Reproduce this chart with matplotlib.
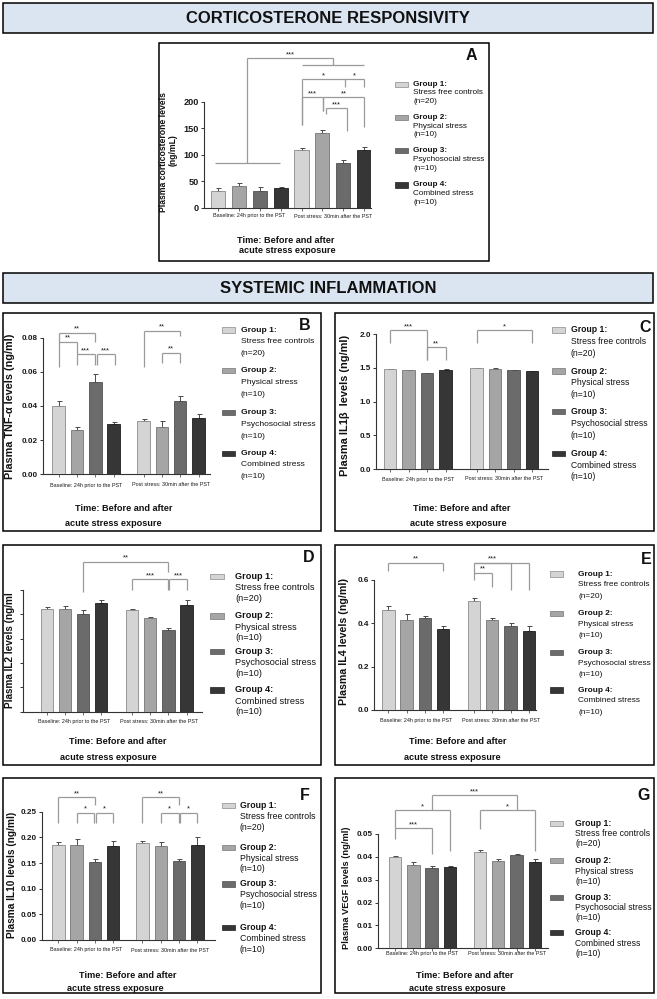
import matplotlib
matplotlib.use('Agg')
import matplotlib.pyplot as plt
from matplotlib.patches import Rectangle
import numpy as np

W, H = 657, 999
plt.rcParams['font.family'] = ['Liberation Sans', 'DejaVu Sans']

# ---- data (rows: baseline g1..g4, post stress g1..g4) ----
groups = ['Group 1:', 'Group 2:', 'Group 3:', 'Group 4:']
group_desc = ['Stress free controls', 'Physical stress', 'Psychosocial stress', 'Combined stress']
group_n = ['(n=20)', '(n=10)', '(n=10)', '(n=10)']
timepoints = ['Baseline: 24h prior to the PST', 'Post stress: 30min after the PST']

cort_mean = [31, 41.5, 31.5, 36.5, 108.5, 141, 84, 109]
cort_sem = [6.3, 5.5, 7.5, 2.5, 4.2, 5.5, 5.7, 5.7]
cort_ticks = [0, 50, 100, 150, 200]
cort_ticklabels = ['0', '50', '100', '150', '200']

tnf_mean = [0.0400, 0.0259, 0.0542, 0.0294, 0.0312, 0.0277, 0.0431, 0.0328]
tnf_sem = [0.0029, 0.0020, 0.0045, 0.0014, 0.0010, 0.0035, 0.0027, 0.0023]
tnf_ticks = [0, 0.02, 0.04, 0.06, 0.08]
tnf_ticklabels = ['0.00', '0.02', '0.04', '0.06', '0.08']

il1b_mean = [1.485, 1.465, 1.42, 1.475, 1.495, 1.49, 1.465, 1.45]
il1b_sem = [0.006, 0.006, 0.006, 0.006, 0.006, 0.006, 0.006, 0.006]
il1b_ticks = [0, 0.5, 1.0, 1.5, 2.0]
il1b_ticklabels = ['0.0', '0.5', '1.0', '1.5', '2.0']

il2_mean = [4.21, 4.23, 4.02, 4.46, 4.19, 3.84, 3.36, 4.39]
il2_sem = [0.09, 0.12, 0.16, 0.14, 0.02, 0.07, 0.07, 0.21]
il2_ticks = [0, 1, 2, 3, 4, 5]
il2_ticklabels = ['', '', '', '', '', '']

il4_mean = [0.4615, 0.415, 0.423, 0.374, 0.503, 0.415, 0.388, 0.365]
il4_sem = [0.018, 0.028, 0.012, 0.014, 0.012, 0.008, 0.012, 0.024]
il4_ticks = [0, 0.2, 0.4, 0.6]
il4_ticklabels = ['0.0', '0.2', '0.4', '0.6']

il10_mean = [0.185, 0.186, 0.152, 0.183, 0.189, 0.184, 0.153, 0.185]
il10_sem = [0.005, 0.011, 0.005, 0.010, 0.004, 0.007, 0.005, 0.015]
il10_ticks = [0, 0.05, 0.10, 0.15, 0.20, 0.25]
il10_ticklabels = ['0.00', '0.05', '0.10', '0.15', '0.20', '0.25']

vegf_mean = [0.0398, 0.0366, 0.0351, 0.0355, 0.0421, 0.0382, 0.0409, 0.0379]
vegf_sem = [0.0007, 0.0013, 0.0009, 0.0004, 0.0010, 0.0009, 0.0004, 0.0011]
vegf_ticks = [0, 0.01, 0.02, 0.03, 0.04, 0.05]
vegf_ticklabels = ['0.00', '0.01', '0.02', '0.03', '0.04', '0.05']

# significance brackets: (from bar, to bar, height, [(leg bar, leg end)], label)
cort_brackets = [
    (-0.15, 2.95, 85, [], ''),
    (4, 7, 270, [], ''),
    (1.4, 5.5, 282, [(1.4, 85), (5.5, 270)], '***'),
    (4, 6.1, 242, [(4, 156), (6.1, 228)], '*'),
    (6.1, 7, 242, [(7, 228)], '*'),
    (4, 5.03, 208, [(4, 156), (5.03, 183)], '***'),
    (5.03, 7, 208, [(5.03, 183), (7, 151.6)], '**'),
    (5.2, 6.18, 187.4, [(5.2, 176.7), (6.18, 145)], '***'),
]
tnf_brackets = [
    (0, 2, 0.0829, [(0, 0.063), (2, 0.0776)], '**'),
    (0, 1, 0.0776, [(1, 0.0704)], '**'),
    (1, 1.97, 0.0704, [(1, 0.064), (1.97, 0.064)], '***'),
    (2.07, 3.05, 0.0704, [(2.07, 0.064), (3.05, 0.064)], '***'),
    (4, 6, 0.084, [(4, 0.0626), (6, 0.081)], '**'),
    (5, 6, 0.0712, [(5, 0.0653), (6, 0.0653)], '**'),
]
il1b_brackets = [
    (0, 2, 2.065, [(0, 1.877), (2, 1.62)], '***'),
    (2, 3, 1.808, [(2, 1.62), (3, 1.62)], '**'),
    (4, 7, 2.065, [(4, 1.877), (7, 1.877)], '*'),
]
il2_brackets = [
    (2, 6, 6.17, [(2, 4.9), (6, 5.76)], '**'),
    (4, 6, 5.45, [(4, 4.98), (6, 5.0)], '***'),
    (6.05, 7, 5.45, [(6.05, 5.0), (7, 5.0)], '***'),
]
il4_brackets = [
    (0, 3, 0.68, [(0, 0.643), (3, 0.643)], '**'),
    (4, 7, 0.68, [(4, 0.60), (6, 0.554), (7, 0.554)], ''),
    (4, 6, 0.68, [], '***'),
    (4, 5, 0.634, [(5, 0.569)], '**'),
]
il10_brackets = [
    (0, 2, 0.278, [(0, 0.2285), (2, 0.263)], '**'),
    (1, 1.97, 0.248, [(1, 0.2285), (1.97, 0.2285)], '*'),
    (2.07, 3, 0.248, [(2.07, 0.2285), (3, 0.2285)], '*'),
    (4, 6, 0.278, [(4, 0.2285), (6, 0.263)], '**'),
    (5, 5.97, 0.248, [(5, 0.2285), (5.97, 0.2285)], '*'),
    (6.07, 7, 0.248, [(6.07, 0.2285), (7, 0.2285)], '*'),
]
vegf_brackets = [
    (0, 3, 0.0603, [(0, 0.0525), (3, 0.0426)], '*'),
    (0, 2, 0.0525, [(0, 0.0478), (2, 0.0412)], '***'),
    (4, 7, 0.0603, [(4, 0.0522), (7, 0.0426)], '*'),
    (2, 6, 0.0669, [(2, 0.0603), (6, 0.0603)], '***'),
]

bar_colors = ['#d4d4d4', '#a5a5a5', '#6b6b6b', '#363636']
bar_edges = ['#8a8a8a', '#767676', '#505050', '#1e1e1e']

fig = plt.figure(figsize=(W / 100, H / 100), dpi=100)


def fx(x):
    return x / W


def fy(y):
    return 1 - y / H


def box(x0, y0, x1, y1, fill='none', lw=1.1):
    fig.patches.append(Rectangle((fx(x0), fy(y1)), (x1 - x0) / W, (y1 - y0) / H,
                                 transform=fig.transFigure, facecolor=fill,
                                 edgecolor='black', linewidth=lw, zorder=-2))


def header(y0, y1, title):
    box(2.5, y0, 652.5, y1, fill='#dbe5f1')
    fig.text(fx(328), fy((y0 + y1) / 2 + 0.5), title, ha='center', va='center',
             fontsize=12, fontweight='bold', color='#111111')


def draw_panel(geo, mean, sem, ticks, ticklabels, brackets, ylabel, letter):
    left, right, y0, tv, tpx, ytop = geo['axis']
    c0, step, gap = geo['bars']
    scale = (y0 - tpx) / tv
    top_px = y0 - ytop * scale
    ax = fig.add_axes([fx(left), fy(y0), (right - left) / W, (y0 - top_px) / H])
    ax.patch.set_alpha(0)
    pos = np.array([0, 1, 2, 3, 3 + gap, 4 + gap, 5 + gap, 6 + gap])

    def xp(i):
        return i if i < 3.5 else i + gap - 1

    def px_x(i):
        return c0 + xp(i) * step

    ax.set_xlim((left - c0) / step, (right - c0) / step)
    ax.set_ylim(0, ytop)
    ax.bar(pos, mean, width=0.68, color=bar_colors * 2, edgecolor=bar_edges * 2,
           linewidth=0.6, zorder=3)
    ax.errorbar(pos, mean, yerr=[np.zeros(8), sem], fmt='none', ecolor='#4a4a4a',
                elinewidth=0.7, capsize=1.8, capthick=0.7, zorder=2)

    for s in ['top', 'right']:
        ax.spines[s].set_visible(False)
    for s in ['left', 'bottom']:
        ax.spines[s].set_color('#333333')
        ax.spines[s].set_linewidth(0.8)
    ax.spines['left'].set_bounds(0, ticks[-1])
    ax.set_yticks(ticks)
    ax.set_yticklabels(ticklabels, fontsize=geo.get('tickfs', 5.9), fontweight='bold',
                       color='#1a1a1a')
    ax.set_xticks(pos)
    ax.set_xticklabels([])
    ax.tick_params(axis='y', length=2.5, width=0.7, color='#333333', pad=1.2)
    ax.tick_params(axis='x', length=2.2, width=0.6, color='#555555')

    for x1, x2, yb, legs, lab in brackets:
        ax.plot([xp(x1), xp(x2)], [yb, yb], color='#9a9a9a', lw=0.9,
                clip_on=False, zorder=1, solid_capstyle='butt')
        for lx, ly in legs:
            ax.plot([xp(lx), xp(lx)], [yb, ly], color='#9a9a9a', lw=0.9,
                    clip_on=False, zorder=1, solid_capstyle='butt')
        if lab:
            ax.text((xp(x1) + xp(x2)) / 2, yb, lab, ha='center', va='bottom',
                    fontsize=5.5, color='#1a1a1a', clip_on=False)

    # category labels under each time point
    cy = geo['cat_y']
    for k, tp in enumerate(timepoints):
        cx = (px_x(4 * k) + px_x(4 * k + 3)) / 2
        fig.text(fx(cx), fy(cy), tp, ha='center', va='center', fontsize=3.9,
                 color='#1a1a1a')

    # x axis title
    (l1x, l1y), (l2x, l2y) = geo['xlab']
    fig.text(fx(l1x), fy(l1y), 'Time: Before and after', ha='center', va='center',
             fontsize=6.6, fontweight='bold', color='#111111')
    fig.text(fx(l2x), fy(l2y), 'acute stress exposure', ha='center', va='center',
             fontsize=6.6, fontweight='bold', color='#111111')

    # y axis title
    for (yx, yy), txt in zip(geo['ylab'], ylabel):
        fig.text(fx(yx), fy(yy), txt, ha='center', va='center', rotation=90,
                 fontsize=geo.get('ylfs', 6.5), fontweight='bold', color='#111111')

    # panel letter
    lx, ly = geo['letter']
    fig.text(fx(lx), fy(ly), letter, ha='center', va='center', fontsize=11.5,
             fontweight='bold', color='#111111')

    # legend
    p0, p1, tx, gys, dl, lfs = geo['legend']
    for k in range(4):
        gy = gys[k]
        fig.patches.append(Rectangle((fx(p0), fy(gy + 2.7)), (p1 - p0) / W, 5.4 / H,
                                     transform=fig.transFigure, facecolor=bar_colors[k],
                                     edgecolor=bar_edges[k], linewidth=0.5, zorder=2))
        fig.text(fx(tx), fy(gy), groups[k], ha='left', va='center', fontsize=lfs,
                 fontweight='bold', color='#111111')
        fig.text(fx(tx), fy(gy + dl), group_desc[k], ha='left', va='center',
                 fontsize=lfs, color='#111111')
        fig.text(fx(tx), fy(gy + 2 * dl), group_n[k], ha='left', va='center',
                 fontsize=lfs, color='#111111')
    return ax


# ---- frames ----
header(3, 33, 'CORTICOSTERONE RESPONSIVITY')
header(273, 303, 'SYSTEMIC INFLAMMATION')
box(159, 43, 489, 261)
box(2.5, 313, 321, 531)
box(335, 313, 654, 531)
box(2.5, 545, 321, 765)
box(335, 545, 654, 765)
box(2.5, 778, 321, 993)
box(335, 778, 654, 993)

geo_a = dict(axis=(204, 371.5, 207.7, 200, 101.7, 300), bars=(218.3, 20.8, 1.0),
             cat_y=216, xlab=((285.7, 240.7), (287.3, 250.7)),
             ylab=[(163.3, 152), (173.3, 150)], ylfs=6.2, tickfs=6.6,
             letter=(471.7, 55), legend=(395, 408, 413.3, [84.3, 117.3, 150.7, 185], 8.7, 5.9))
geo_b = dict(axis=(43, 210, 474.3, 0.08, 337.7, 0.09), bars=(58.7, 18.3, 1.64),
             cat_y=485, xlab=((124, 508.3), (113.3, 523.3)), ylab=[(10, 406.7)], ylfs=7.8,
             letter=(305, 325), legend=(221.7, 235, 240.7, [330, 370.7, 412.7, 453.3], 11.7, 6.1))
geo_c = dict(axis=(376, 548.3, 469, 2.0, 334.3, 2.2), bars=(390, 18.5, 1.68),
             cat_y=479, xlab=((462, 508.3), (458, 523.3)), ylab=[(345, 405)], ylfs=7.9,
             letter=(645, 328), legend=(551.7, 565, 570.7, [330, 371, 411.7, 453.3], 11.7, 6.2))
geo_d = dict(axis=(23.3, 201.7, 711.7, 5, 590, 6.6), bars=(46.7, 18.2, 1.69),
             cat_y=721.7, xlab=((118, 742), (108, 757)), ylab=[(10, 650)], ylfs=7.2,
             letter=(308.7, 558), legend=(210, 224, 235, [576.7, 616, 651.7, 690], 11, 6.6))
geo_e = dict(axis=(374, 536, 710, 0.6, 580, 0.72), bars=(388.3, 18.3, 1.68),
             cat_y=720.7, xlab=((458, 742), (452, 757)), ylab=[(344, 641.7)], ylfs=7.7,
             letter=(646, 560), legend=(550, 563, 578.3, [574, 613.3, 652.7, 690], 11, 5.95))
geo_f = dict(axis=(42, 215, 940, 0.25, 811.7, 0.305), bars=(58.3, 18.3, 1.6),
             cat_y=950, xlab=((128, 975), (115, 988.3)), ylab=[(11.7, 875)], ylfs=7.3,
             letter=(305, 795), legend=(221.7, 235, 240, [805.7, 847.3, 884, 927.7], 10.8, 6.3))
geo_g = dict(axis=(378, 548, 948.3, 0.05, 834, 0.073), bars=(395, 18.3, 1.64),
             cat_y=953.3, xlab=((464.5, 975), (457.3, 988.3)), ylab=[(346.7, 887.5)], ylfs=6.7,
             letter=(644, 796), legend=(550, 563, 575, [823.3, 860.7, 897.3, 932.7], 10.3, 6.2))

draw_panel(geo_a, cort_mean, cort_sem, cort_ticks, cort_ticklabels, cort_brackets,
           ['Plasma corticosterone levels', '(ng/mL)'], 'A')
draw_panel(geo_b, tnf_mean, tnf_sem, tnf_ticks, tnf_ticklabels, tnf_brackets,
           ['Plasma TNF-α levels (ng/ml)'], 'B')
draw_panel(geo_c, il1b_mean, il1b_sem, il1b_ticks, il1b_ticklabels, il1b_brackets,
           ['Plasma IL1β  levels (ng/ml)'], 'C')
draw_panel(geo_d, il2_mean, il2_sem, il2_ticks, il2_ticklabels, il2_brackets,
           ['Plasma IL2 levels (ng/ml'], 'D')
draw_panel(geo_e, il4_mean, il4_sem, il4_ticks, il4_ticklabels, il4_brackets,
           ['Plasma IL4 levels (ng/ml)'], 'E')
draw_panel(geo_f, il10_mean, il10_sem, il10_ticks, il10_ticklabels, il10_brackets,
           ['Plasma IL10 levels (ng/ml)'], 'F')
draw_panel(geo_g, vegf_mean, vegf_sem, vegf_ticks, vegf_ticklabels, vegf_brackets,
           ['Plasma VEGF levels (ng/ml)'], 'G')

fig.savefig('out.png', dpi=100)
